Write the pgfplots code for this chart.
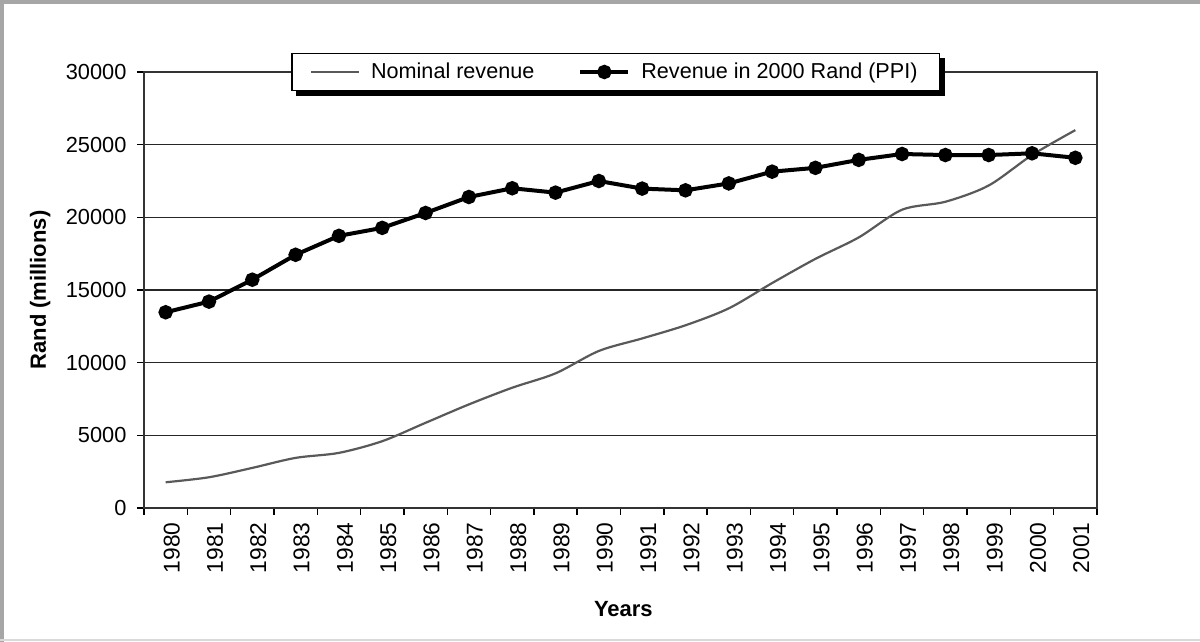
\documentclass[border=0pt]{standalone}
\usepackage{pgfplots}
\pgfplotsset{compat=1.18}
\usepackage{fontspec}
\setmainfont{Liberation Sans}
\begin{document}
\fontsize{10.8pt}{13pt}\selectfont
\begin{tikzpicture}
\useasboundingbox (-72pt,-67pt) rectangle (528pt,254pt);
\draw[gray!70, line width=2pt] (-71pt,-67pt) -- (-71pt,253pt) -- (528pt,253pt);
\draw[gray!30, line width=0.8pt] (-72pt,-66pt) -- (528pt,-66pt);
\begin{axis}[
  scale only axis, width=476.5pt, height=218pt,
  xmin=-0.5, xmax=21.5, ymin=0, ymax=30000,
  xtick={-0.5,0.5,...,21.5},
  xticklabels={1980,1981,1982,1983,1984,1985,1986,1987,1988,1989,1990,1991,1992,1993,1994,1995,1996,1997,1998,1999,2000,2001},
  x tick label as interval,
  ytick={0,5000,10000,15000,20000,25000,30000},
  xtick pos=bottom, ytick pos=left,
  scaled ticks=false,
  /pgf/number format/1000 sep={},
  /pgf/number format/assume math mode=true,
  tick align=outside, major tick length=3.5pt,
  tick style={black, line width=0.7pt},
  xticklabel style={rotate=90, anchor=east, yshift=-3pt, font=\fontsize{11.4pt}{13pt}\selectfont},
  yticklabel style={xshift=-1.5pt, font=\fontsize{10.9pt}{13pt}\selectfont},
  ymajorgrids,
  grid style={black!85, line width=0.7pt},
  axis line style={black!80, line width=0.7pt},
  xlabel={Years}, ylabel={Rand (millions)},
  every axis x label/.style={at={(axis description cs:0.503,-0.2317)}, anchor=center, font=\bfseries\fontsize{11pt}{13pt}\selectfont},
  every axis y label/.style={at={(axis description cs:-0.109,0.5)}, rotate=90, anchor=center, font=\bfseries\fontsize{11pt}{13pt}\selectfont},
  legend columns=2,
  legend style={name=leg, at={(axis description cs:0.495,1)}, anchor=center,
    draw=black, line width=0.6pt, fill=white,
    inner xsep=9pt, inner ysep=2.5pt,
    font=\fontsize{10.8pt}{13pt}\selectfont,
    /tikz/every odd column/.append style={column sep=3.5pt},
    /tikz/every even column/.append style={column sep=20pt}},
  legend image code/.code={\draw[mark repeat=2, mark phase=2, #1] plot coordinates {(0pt,0pt) (12pt,0pt) (24pt,0pt)};},
]
\addplot[black!65, line width=1.1pt, smooth, no markers] coordinates {
(0,1770) (1,2115) (2,2759) (3,3449) (4,3793) (5,4598) (6,5862) (7,7127)
(8,8276) (9,9265) (10,10805) (11,11667) (12,12572) (13,13738) (14,15476)
(15,17143) (16,18619) (17,20524) (18,21072) (19,22191) (20,24286) (21,26000)};
\addlegendentry{Nominal revenue}
\addplot[black, line width=2pt, mark=*, mark size=2.6pt, mark options={solid, fill=black}] coordinates {
(0,13468) (1,14200) (2,15709) (3,17423) (4,18726) (5,19275) (6,20300) (7,21400)
(8,22000) (9,21700) (10,22500) (11,21977) (12,21858) (13,22334) (14,23143)
(15,23405) (16,23953) (17,24358) (18,24286) (19,24286) (20,24405) (21,24096)};
\addlegendentry{Revenue in 2000 Rand (PPI)}
\end{axis}
\fill[black] ([xshift=2.5pt]leg.south west) rectangle ([xshift=2.5pt,yshift=-2.5pt]leg.south east);
\fill[black] ([yshift=-2.5pt]leg.north east) rectangle ([xshift=2.5pt,yshift=-2.5pt]leg.south east);
\end{tikzpicture}
\end{document}
